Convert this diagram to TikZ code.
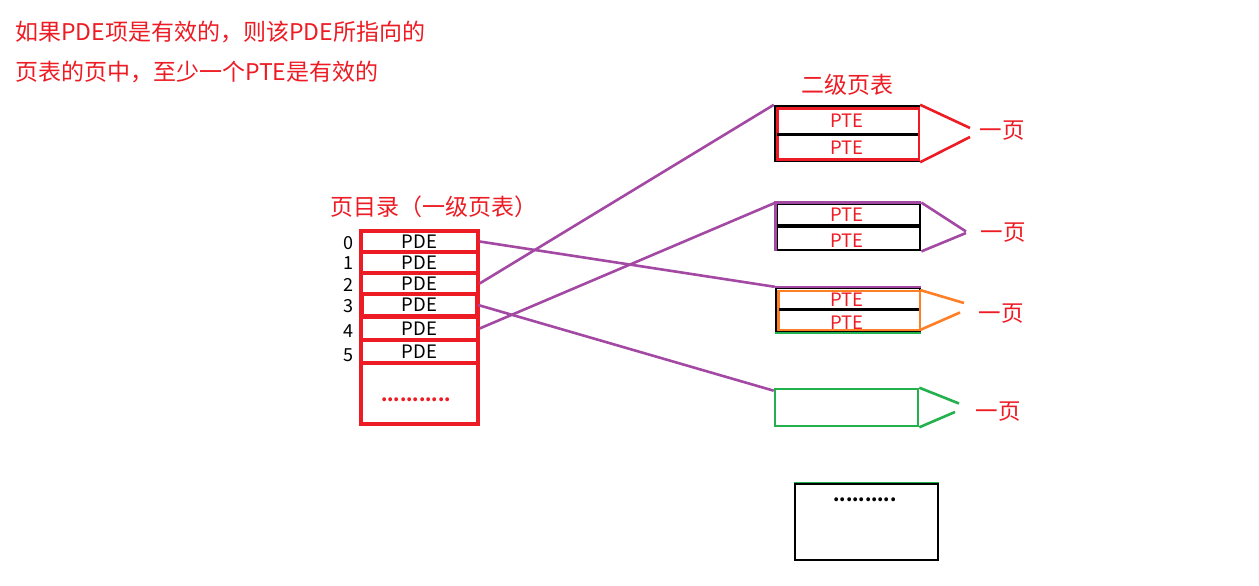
\documentclass[tikz,border=0pt]{standalone}
\usepackage{fontspec}
\setmainfont{Noto Sans CJK SC}
\definecolor{pred}{HTML}{ED1C24}
\definecolor{ppurple}{HTML}{A349A4}
\definecolor{porange}{HTML}{FF7F27}
\definecolor{pgreen}{HTML}{22B14C}
\begin{document}
\begin{tikzpicture}[x=1pt,y=-1pt,
  big/.style={text=pred,font=\fontsize{23}{28}\selectfont,inner sep=0pt},
  mid/.style={font=\fontsize{18.5}{22}\selectfont,inner sep=0pt},
  pderow/.style={draw=pred,line width=3.2pt,minimum width=117pt,inner sep=0pt,font=\fontsize{18.5}{22}\selectfont},
  idx/.style={font=\fontsize{18}{22}\selectfont,inner sep=0pt},
  link/.style={draw=ppurple,line width=2.6pt},
  page/.style={text=pred,font=\fontsize{22.5}{27}\selectfont,inner sep=0pt}]
\useasboundingbox (0,0) rectangle (1259,586);
\fill[white] (0,0) rectangle (1259,586);

% top remark
\node[big,anchor=west] (t1) at (15,32) {如果PDE项是有效的，则该PDE所指向的};
\node[big,anchor=west] (t2) at (15,72) {页表的页中，至少一个PTE是有效的};

% page directory
\node[big,anchor=west] (dirt) at (330,207) {页目录（一级页表）};
\node[draw=pred,line width=3.2pt,minimum width=117pt,minimum height=193pt,inner sep=0pt] (dir) at (419.5,327.5) {};
\node[pderow,minimum height=21pt] (r0) at (419.5,241.5) {PDE};
\node[pderow,minimum height=21pt] (r1) at (419.5,262.5) {PDE};
\node[pderow,minimum height=21pt] (r2) at (419.5,283.5) {PDE};
\node[pderow,minimum height=22pt,minimum width=114pt] (r3) at (419.5,305) {PDE};
\node[pderow,minimum height=23pt] (r4) at (419.5,328.5) {PDE};
\node[pderow,minimum height=23pt] (r5) at (419.5,351.5) {PDE};
\node[text=pred,font=\fontsize{18}{22}\bfseries\selectfont,inner sep=0pt] (dots1) at (416,400) {...........};
\node[idx] (i0) at (348,243) {0};
\node[idx] (i1) at (348,263) {1};
\node[idx] (i2) at (348,285) {2};
\node[idx] (i3) at (348,306) {3};
\node[idx] (i4) at (348,331) {4};
\node[idx] (i5) at (348,355) {5};

% second level title
\node[big] (sect) at (847,85) {二级页表};

% table A (red)
\node[draw=black,line width=2.4pt,minimum width=144pt,minimum height=55pt,inner sep=0pt] (A) at (847,133.5) {};
\draw[pred,line width=2.8pt] (777.5,108.5) rectangle (919,159.5);
\draw[black,line width=3pt] (777,134) -- (918,134);
\node[mid,text=pred] (a1) at (847,121) {PTE};
\node[mid,text=pred] (a2) at (847,148) {PTE};
\draw[pred,line width=2.6pt] (A.north east) -- (970,128) (A.south east) -- (970,137);
\node[page] (pa) at (1002,131) {一页};

% table B (purple)
\node[draw=black,line width=2.8pt,minimum width=143pt,minimum height=46pt,inner sep=0pt] (B) at (848.5,227) {};
\draw[ppurple,line width=2.8pt] (B.north east) -- (B.north west) -- (B.south west);
\draw[black,line width=3.2pt] (778,226) -- (919,226);
\node[mid,text=pred] (b1) at (847,215) {PTE};
\node[mid,text=pred] (b2) at (847,241) {PTE};
\draw[ppurple,line width=2.6pt] (B.north east) -- (966,231.5) (B.south east) -- (966,233);
\node[page] (pb) at (1003,233) {一页};

% table C (orange)
\node[draw=black,line width=2.4pt,minimum width=144pt,minimum height=44pt,inner sep=0pt] (C) at (848,310) {};
\draw[ppurple,line width=2.4pt] (C.north west) -- (C.north east);
\draw[porange,line width=2.8pt] (778.5,291) rectangle (920,330);
\draw[pgreen,line width=2.4pt] (C.south west) -- (C.south east);
\draw[black,line width=3pt] (779,309) -- (919,309);
\node[mid,text=pred] (c1) at (847,300) {PTE};
\node[mid,text=pred] (c2) at (847,323) {PTE};
\draw[porange,line width=2.6pt] (920,290) -- (964,303) (920,330) -- (960,312.5);
\node[page] (pc) at (1001,314) {一页};

% table D (green)
\node[draw=pgreen,line width=2.6pt,minimum width=143pt,minimum height=37pt,inner sep=0pt] (D) at (846.5,407.5) {};
\draw[pgreen,line width=2.6pt] (D.north east) -- (959,403.5) (D.south east) -- (955,412);
\node[page] (pd) at (998,412) {一页};

% table E (black)
\node[draw=black,line width=2.8pt,minimum width=143pt,minimum height=76pt,inner sep=0pt] (E) at (866.5,522) {};
\draw[pgreen,line width=1pt] (E.north west) -- (E.north east);
\node[font=\fontsize{18}{22}\bfseries\selectfont,inner sep=0pt] (dots2) at (865,500) {..........};

% links
\draw[link] (r0.east) -- (C.north west);
\draw[link] (r2.east) -- (A.north west);
\draw[link] (r3.east) -- ([yshift=-3pt]D.north west);
\draw[link] (r4.east) -- (B.north west);
\end{tikzpicture}
\end{document}
